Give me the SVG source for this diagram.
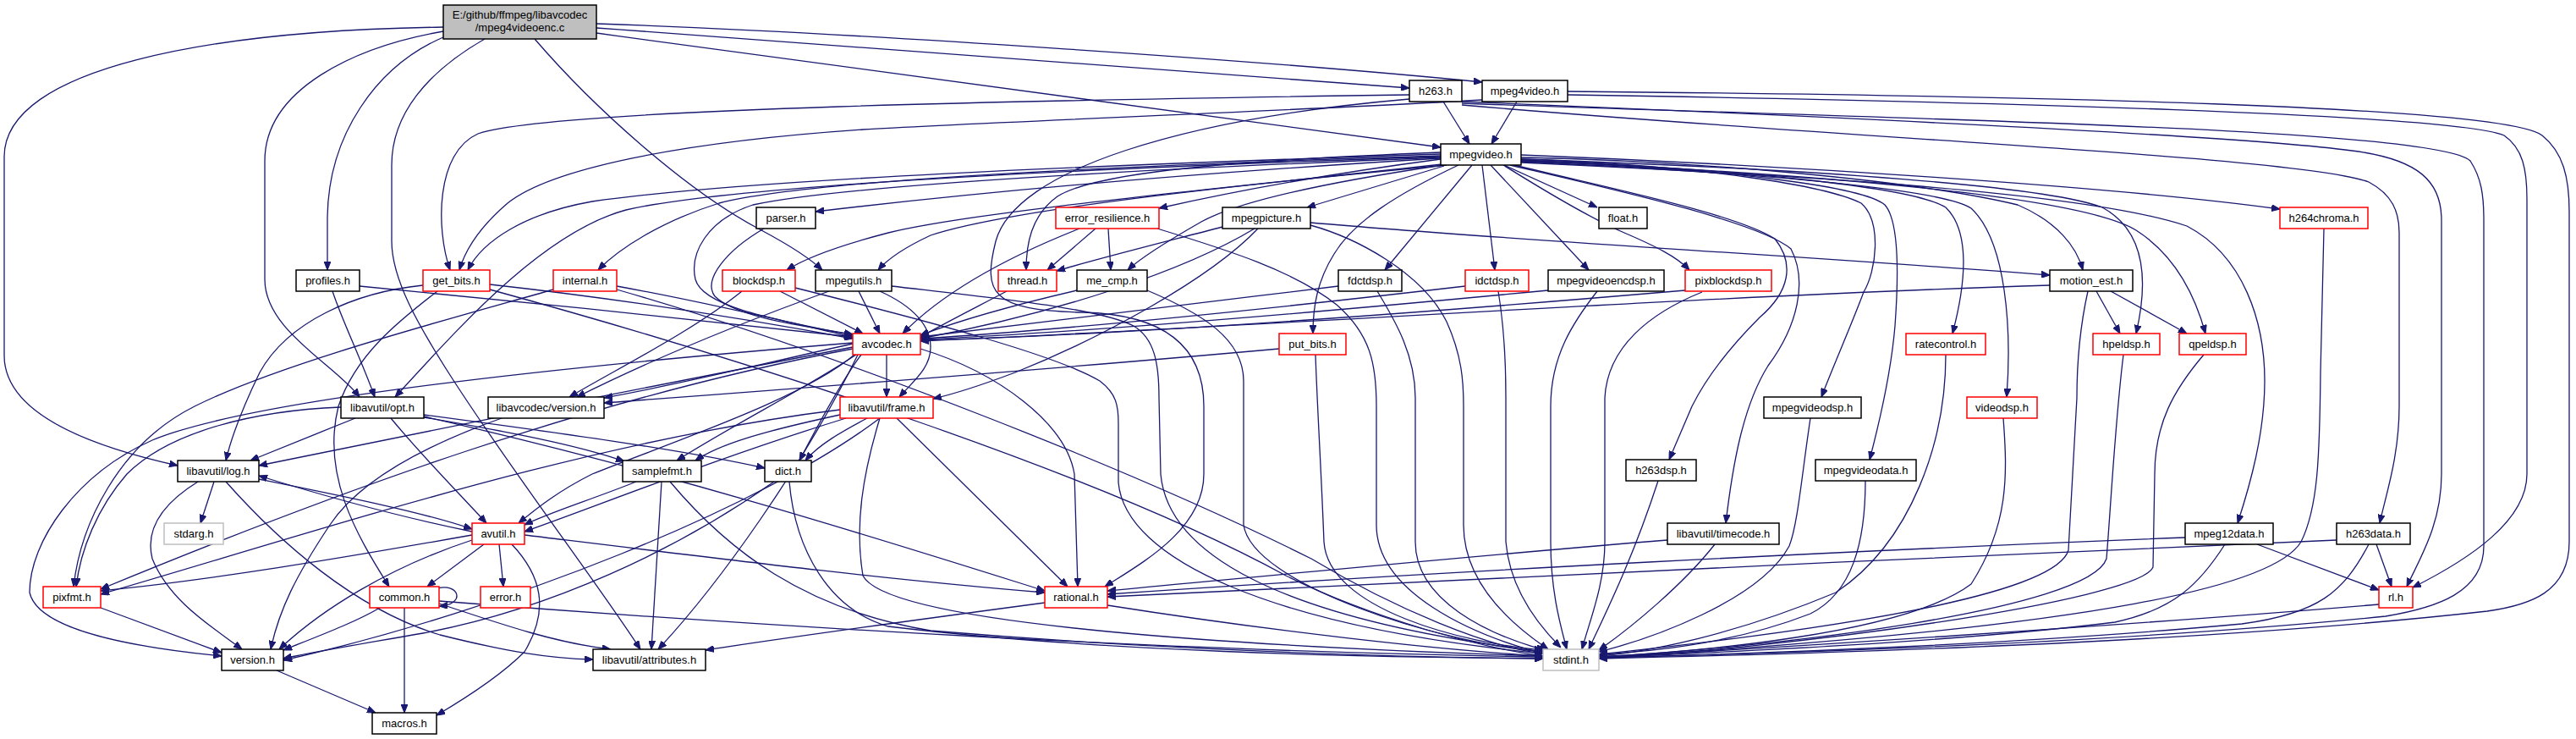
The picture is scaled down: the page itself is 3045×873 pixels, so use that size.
<svg xmlns="http://www.w3.org/2000/svg" width="3045" height="873" viewBox="0 0 3045 873">
<style>
.e{fill:none;stroke:#191970;stroke-width:1.3;marker-end:url(#a)}
.n rect{fill:#ffffff;stroke:#000000;stroke-width:1.5}
.n.r rect{stroke:#ff0000}
.n.g rect{stroke:#bfbfbf}
.n.m rect{fill:#bfbfbf}
.n text{font-family:"Liberation Sans",Arial,sans-serif;font-size:13px;text-anchor:middle;fill:#000000}
</style>
<defs>
<marker id="a" markerUnits="userSpaceOnUse" viewBox="0 0 10 8" markerWidth="10" markerHeight="8" refX="10" refY="4" orient="auto"><path d="M0,0 L10,4 L0,8 z" fill="#191970" stroke="#191970" stroke-width="1"/></marker>
</defs>
<rect x="0" y="0" width="3045" height="873" fill="#ffffff"/>
<g id="connectors">
<path class="e" d="M524,32 C250,36 5,80 5,185 L5,420 C5,490 110,528 210,550"/>
<path class="e" d="M524,37 C420,55 313,105 313,190 L313,330 C313,390 395,430 425,469"/>
<path class="e" d="M524,44 C445,78 387,160 387,260 L387,319"/>
<path class="e" d="M573,46 C505,85 463,135 463,195 L463,285 C463,330 495,385 530,440 C600,550 700,680 757,767"/>
<path class="e" d="M632,46 C700,125 810,225 900,272 C930,288 955,303 972,319"/>
<path class="e" d="M705,28 C1000,38 1500,72 1752,97"/>
<path class="e" d="M705,33 C1100,60 1500,92 1666,104"/>
<path class="e" d="M705,39 C1100,95 1500,145 1703,174"/>
<path class="e" d="M1706,120 L1737,170"/>
<path class="e" d="M1666,112 C1250,118 650,128 565,158 C515,180 515,270 532,319"/>
<path class="e" d="M1666,117 C1400,140 1200,200 1177,285 C1162,345 1170,367 1280,369 C1400,372 1423,430 1423,480 L1423,560 C1423,625 1350,665 1306,693"/>
<path class="e" d="M1728,120 C2100,135 2650,160 2780,178 C2860,188 2886,215 2886,260 L2886,560 C2886,620 2860,660 2845,693"/>
<path class="e" d="M1728,122 C2200,140 2880,150 2920,190 C2933,210 2936,230 2936,260 L2936,645 C2936,700 2880,718 2820,728 C2500,760 2100,772 1890,777"/>
<path class="e" d="M1728,124 C2200,165 2720,185 2800,215 C2828,230 2836,250 2836,275 L2836,480 C2836,540 2820,585 2813,618"/>
<path class="e" d="M1793,120 L1763,170"/>
<path class="e" d="M1752,118 C1550,130 1150,145 1020,153 C800,168 650,200 600,240 C565,270 550,295 543,319"/>
<path class="e" d="M1853,112 C2350,120 2900,135 2960,160 C2982,175 2987,200 2987,235 L2987,560 C2987,615 2920,660 2852,694"/>
<path class="e" d="M1853,108 C2400,113 2960,125 3005,160 C3030,180 3037,210 3037,250 L3037,640 C3037,700 2990,715 2940,722 C2600,760 2150,772 1890,778"/>
<path class="e" d="M1703,182 C1300,195 880,212 700,238 C620,252 570,285 553,319"/>
<path class="e" d="M1703,185 C1250,200 860,220 740,248 C640,275 540,390 467,469"/>
<path class="e" d="M1703,184 C1300,196 950,214 850,240 C780,262 730,295 707,319"/>
<path class="e" d="M1703,187 C1400,205 1150,228 964,250"/>
<path class="e" d="M1703,186 C1350,200 1000,218 890,242 C835,260 815,300 822,330 C830,360 900,375 1008,396"/>
<path class="e" d="M1705,194 C1450,222 1150,250 1050,275 C1000,288 955,303 930,319"/>
<path class="e" d="M1710,195 C1500,215 1200,245 1100,278 C1070,292 1050,305 1038,319"/>
<path class="e" d="M1703,180 C1500,188 1300,200 1250,232 C1218,255 1213,290 1213,319"/>
<path class="e" d="M1703,188 C1550,208 1450,228 1370,246"/>
<path class="e" d="M1706,195 C1550,218 1460,240 1420,262 C1385,282 1350,303 1333,319"/>
<path class="e" d="M1707,196 L1545,245"/>
<path class="e" d="M1778,195 L1888,245"/>
<path class="e" d="M1740,195 L1637,319"/>
<path class="e" d="M1752,195 L1767,319"/>
<path class="e" d="M1762,195 L1878,319"/>
<path class="e" d="M1777,195 C1830,228 1880,258 1920,275 C1955,290 1982,303 1997,319"/>
<path class="e" d="M1724,195 C1650,230 1600,262 1577,300 C1557,332 1552,362 1552,394"/>
<path class="e" d="M1798,186 C2000,190 2260,212 2385,242 C2432,262 2455,292 2462,319"/>
<path class="e" d="M1798,183 C2100,195 2500,220 2695,247"/>
<path class="e" d="M1798,188 C2150,200 2420,220 2485,245 C2535,272 2540,330 2525,394"/>
<path class="e" d="M1798,190 C2150,205 2460,232 2525,272 C2572,302 2595,350 2607,394"/>
<path class="e" d="M1798,189 C2050,200 2260,220 2300,245 C2328,272 2325,330 2308,394"/>
<path class="e" d="M1798,191 C2100,205 2300,225 2330,246 C2372,285 2378,390 2372,469"/>
<path class="e" d="M1798,188 C2020,196 2160,220 2200,240 C2225,262 2218,320 2203,345 C2188,385 2168,430 2153,469"/>
<path class="e" d="M1798,190 C2060,200 2205,222 2228,242 C2246,262 2244,330 2240,385 C2235,445 2220,505 2210,543"/>
<path class="e" d="M1790,195 C1900,222 2050,252 2098,282 C2122,312 2115,345 2080,375 C2050,405 2020,440 2000,480 L1973,543"/>
<path class="e" d="M1785,195 C1900,222 2080,262 2117,294 C2137,332 2125,385 2090,432 C2060,480 2048,550 2040,618"/>
<path class="e" d="M1798,192 C2100,206 2460,225 2585,267 C2652,302 2677,380 2677,450 C2677,512 2660,572 2645,618"/>
<path class="e" d="M393,344 C405,380 425,420 443,469"/>
<path class="e" d="M425,338 C600,355 850,380 1008,398"/>
<path class="e" d="M579,336 C750,355 900,380 1008,400"/>
<path class="e" d="M500,337 C420,345 340,380 307,440 C290,475 275,510 267,544"/>
<path class="e" d="M517,344 C470,380 420,420 400,480 C380,560 420,630 460,693"/>
<path class="e" d="M579,342 C900,430 1300,560 1520,680 C1620,730 1750,765 1824,775"/>
<path class="e" d="M729,338 C850,360 950,385 1008,398"/>
<path class="e" d="M654,342 C520,380 330,430 230,480 C140,525 95,620 87,693"/>
<path class="e" d="M729,342 C1000,420 1350,560 1550,660 C1650,720 1760,765 1824,772"/>
<path class="e" d="M903,270 C860,295 830,330 845,350 C870,375 950,385 1008,395"/>
<path class="e" d="M922,344 L1020,394"/>
<path class="e" d="M877,344 C820,390 740,430 673,469"/>
<path class="e" d="M940,340 C1100,380 1250,420 1300,450 C1320,465 1322,480 1322,500 L1322,570 C1330,660 1500,740 1824,772"/>
<path class="e" d="M1015,344 L1040,394"/>
<path class="e" d="M980,344 C880,380 780,420 682,469"/>
<path class="e" d="M1040,344 C1080,362 1100,385 1100,410 C1100,435 1080,450 1063,469"/>
<path class="e" d="M1054,338 C1200,355 1300,365 1340,385 C1365,400 1370,430 1370,470 L1372,560 C1380,650 1500,730 1824,770"/>
<path class="e" d="M1190,344 C1150,365 1120,380 1088,398"/>
<path class="e" d="M1295,270 L1238,319"/>
<path class="e" d="M1310,270 L1313,319"/>
<path class="e" d="M1276,270 C1200,300 1120,340 1067,394"/>
<path class="e" d="M1368,270 C1450,295 1530,320 1580,360 C1620,395 1627,430 1627,480 L1627,620 C1627,700 1740,750 1824,772"/>
<path class="e" d="M1273,343 C1200,360 1130,380 1088,396"/>
<path class="e" d="M1356,343 C1420,370 1470,400 1470,450 L1470,620 C1480,690 1700,760 1824,770"/>
<path class="e" d="M1445,268 C1380,285 1300,305 1249,320"/>
<path class="e" d="M1483,270 C1400,320 1250,370 1088,400"/>
<path class="e" d="M1487,270 C1430,330 1300,400 1200,440 C1160,455 1130,465 1103,471"/>
<path class="e" d="M1549,263 C1800,285 2100,300 2423,325"/>
<path class="e" d="M1549,266 C1600,280 1680,320 1710,380 C1728,420 1730,450 1730,480 L1730,620 C1730,690 1790,740 1830,767"/>
<path class="e" d="M1582,338 C1400,360 1200,385 1088,398"/>
<path class="e" d="M1628,344 C1650,380 1673,420 1673,470 L1673,640 C1673,710 1760,750 1826,768"/>
<path class="e" d="M1732,338 C1500,365 1250,390 1088,400"/>
<path class="e" d="M1771,344 C1777,380 1780,420 1780,470 L1780,640 C1785,700 1825,745 1845,765"/>
<path class="e" d="M1830,343 C1600,365 1300,392 1088,401"/>
<path class="e" d="M1888,344 C1860,380 1833,420 1833,480 L1833,640 C1833,700 1845,740 1852,767"/>
<path class="e" d="M1992,343 C1700,368 1350,395 1088,402"/>
<path class="e" d="M2012,345 C1950,370 1900,410 1897,470 L1897,640 C1897,690 1880,730 1870,767"/>
<path class="e" d="M2478,344 L2506,394"/>
<path class="e" d="M2495,344 L2585,394"/>
<path class="e" d="M2423,337 C2000,350 1500,385 1088,403"/>
<path class="e" d="M2468,344 C2460,380 2455,420 2455,470 L2445,650 C2430,700 2200,740 1890,773"/>
<path class="e" d="M1008,406 C900,430 800,455 714,470"/>
<path class="e" d="M1048,419 L1048,469"/>
<path class="e" d="M1012,419 C950,460 870,500 800,544"/>
<path class="e" d="M1018,419 C995,450 968,500 945,544"/>
<path class="e" d="M1010,419 C950,470 800,520 700,560 C660,580 635,600 613,618"/>
<path class="e" d="M1008,410 C800,450 500,510 306,550"/>
<path class="e" d="M1008,412 C700,470 400,580 119,696"/>
<path class="e" d="M1088,412 C1180,440 1260,500 1270,560 L1274,693"/>
<path class="e" d="M1014,419 C950,550 850,690 778,767"/>
<path class="e" d="M1008,405 C700,430 300,470 180,520 C90,560 35,640 35,700 C45,745 160,765 262,775"/>
<path class="e" d="M593,494 C520,520 430,560 390,620 C350,680 330,720 320,767"/>
<path class="e" d="M420,494 C380,510 330,530 296,544"/>
<path class="e" d="M403,481 C300,485 200,510 150,560 C115,600 95,650 90,693"/>
<path class="e" d="M462,494 C500,540 540,580 575,618"/>
<path class="e" d="M501,490 C650,510 800,530 904,553"/>
<path class="e" d="M501,493 C600,510 680,525 738,545"/>
<path class="e" d="M501,492 C800,560 1050,640 1235,698"/>
<path class="e" d="M1000,494 C850,540 700,600 620,628"/>
<path class="e" d="M1025,494 C995,510 968,525 952,544"/>
<path class="e" d="M993,490 C900,510 850,525 822,544"/>
<path class="e" d="M993,484 C700,520 400,620 119,702"/>
<path class="e" d="M1060,494 L1262,693"/>
<path class="e" d="M1040,494 C900,600 600,720 335,780"/>
<path class="e" d="M1040,494 C1020,560 1010,620 1020,680 C1050,740 1500,765 1824,775"/>
<path class="e" d="M752,569 C700,590 650,605 620,620"/>
<path class="e" d="M782,569 L770,767"/>
<path class="e" d="M792,569 C860,650 950,720 1100,745 C1400,770 1650,776 1824,778"/>
<path class="e" d="M933,569 C940,650 980,720 1050,740 C1300,770 1600,776 1824,778"/>
<path class="e" d="M915,569 C800,650 650,720 500,748 C420,762 370,770 335,778"/>
<path class="e" d="M253,569 L237,618"/>
<path class="e" d="M234,569 C200,590 170,620 180,660 C200,710 250,740 286,767"/>
<path class="e" d="M306,566 C400,585 500,605 558,625"/>
<path class="e" d="M267,569 C330,640 420,720 520,750 C600,770 650,778 701,779"/>
<path class="e" d="M558,628 C470,610 380,585 306,562"/>
<path class="e" d="M572,643 L505,693"/>
<path class="e" d="M590,643 L595,693"/>
<path class="e" d="M620,632 C850,660 1050,685 1235,700"/>
<path class="e" d="M558,638 C460,670 380,720 330,767"/>
<path class="e" d="M605,643 C640,680 650,720 620,770 C590,800 550,825 516,845"/>
<path class="e" d="M558,632 C400,660 250,685 119,698"/>
<path class="e" d="M517,695 C542,688 552,714 519,716"/>
<path class="e" d="M478,718 L478,842"/>
<path class="e" d="M449,718 C420,735 380,750 335,768"/>
<path class="e" d="M519,713 C600,740 660,760 722,767"/>
<path class="e" d="M519,710 C900,740 1400,770 1824,776"/>
<path class="e" d="M119,718 L262,771"/>
<path class="e" d="M327,792 L444,842"/>
<path class="e" d="M1235,712 C1100,730 950,750 834,768"/>
<path class="e" d="M1309,715 C1500,745 1700,768 1824,775"/>
<path class="e" d="M1555,419 C1557,480 1562,560 1565,640 C1570,720 1730,760 1824,768"/>
<path class="e" d="M1512,412 C1200,440 900,462 714,476"/>
<path class="e" d="M2300,419 C2300,520 2260,640 2170,700 C2050,750 1950,770 1890,775"/>
<path class="e" d="M2510,419 C2500,500 2495,600 2490,660 C2470,720 2100,765 1890,776"/>
<path class="e" d="M2605,419 C2570,460 2547,500 2547,560 L2545,670 C2530,710 2100,768 1890,777"/>
<path class="e" d="M2368,494 C2373,560 2375,620 2330,690 C2250,750 2000,770 1890,776"/>
<path class="e" d="M2140,494 C2130,560 2125,620 2115,645 C2080,710 1950,755 1890,770"/>
<path class="e" d="M2205,568 C2205,640 2190,700 2140,725 C2050,760 1950,770 1890,773"/>
<path class="e" d="M1960,568 C1930,660 1900,720 1878,767"/>
<path class="e" d="M1971,638 C1700,660 1450,685 1309,698"/>
<path class="e" d="M2027,643 C1990,690 1930,740 1890,768"/>
<path class="e" d="M2668,643 L2812,697"/>
<path class="e" d="M2583,635 C2200,650 1700,675 1309,702"/>
<path class="e" d="M2630,643 C2600,690 2570,720 2500,735 C2300,760 2000,772 1890,777"/>
<path class="e" d="M2809,643 L2827,693"/>
<path class="e" d="M2762,638 C2300,655 1700,690 1309,705"/>
<path class="e" d="M2800,643 C2770,700 2740,725 2650,737 C2400,760 2100,772 1890,777"/>
<path class="e" d="M2812,714 C2500,740 2100,765 1890,777"/>
<path class="e" d="M2747,270 L2743,440 C2742,540 2740,600 2720,640 C2690,690 2500,740 1890,777"/>
</g>
<g id="n-main" class="n m"><rect x="524" y="6" width="181" height="40"/><text x="614.5" y="22">E:/github/ffmpeg/libavcodec</text><text x="614.5" y="37">/mpeg4videoenc.c</text></g>
<g id="n-h263" class="n"><rect x="1666" y="95" width="62" height="25"/><text x="1697" y="112">h263.h</text></g>
<g id="n-mpeg4video" class="n"><rect x="1752" y="95" width="101" height="25"/><text x="1802.5" y="112">mpeg4video.h</text></g>
<g id="n-mpegvideo" class="n"><rect x="1703" y="170" width="95" height="25"/><text x="1750.5" y="187">mpegvideo.h</text></g>
<g id="n-parser" class="n"><rect x="894" y="245" width="70" height="25"/><text x="929" y="262">parser.h</text></g>
<g id="n-error_resilience" class="n r"><rect x="1248" y="245" width="122" height="25"/><text x="1309" y="262">error_resilience.h</text></g>
<g id="n-mpegpicture" class="n"><rect x="1445" y="245" width="104" height="25"/><text x="1497" y="262">mpegpicture.h</text></g>
<g id="n-float" class="n"><rect x="1890" y="245" width="57" height="25"/><text x="1918.5" y="262">float.h</text></g>
<g id="n-h264chroma" class="n r"><rect x="2695" y="245" width="104" height="25"/><text x="2747" y="262">h264chroma.h</text></g>
<g id="n-profiles" class="n"><rect x="350" y="319" width="75" height="25"/><text x="387.5" y="336">profiles.h</text></g>
<g id="n-get_bits" class="n r"><rect x="500" y="319" width="79" height="25"/><text x="539.5" y="336">get_bits.h</text></g>
<g id="n-internal" class="n r"><rect x="654" y="319" width="75" height="25"/><text x="691.5" y="336">internal.h</text></g>
<g id="n-blockdsp" class="n r"><rect x="854" y="319" width="86" height="25"/><text x="897" y="336">blockdsp.h</text></g>
<g id="n-mpegutils" class="n"><rect x="964" y="319" width="90" height="25"/><text x="1009" y="336">mpegutils.h</text></g>
<g id="n-thread" class="n r"><rect x="1180" y="319" width="69" height="25"/><text x="1214.5" y="336">thread.h</text></g>
<g id="n-me_cmp" class="n"><rect x="1273" y="319" width="83" height="25"/><text x="1314.5" y="336">me_cmp.h</text></g>
<g id="n-fdctdsp" class="n"><rect x="1582" y="319" width="75" height="25"/><text x="1619.5" y="336">fdctdsp.h</text></g>
<g id="n-idctdsp" class="n r"><rect x="1732" y="319" width="75" height="25"/><text x="1769.5" y="336">idctdsp.h</text></g>
<g id="n-mpegvideoencdsp" class="n"><rect x="1830" y="319" width="137" height="25"/><text x="1898.5" y="336">mpegvideoencdsp.h</text></g>
<g id="n-pixblockdsp" class="n r"><rect x="1992" y="319" width="102" height="25"/><text x="2043" y="336">pixblockdsp.h</text></g>
<g id="n-motion_est" class="n"><rect x="2423" y="319" width="98" height="25"/><text x="2472" y="336">motion_est.h</text></g>
<g id="n-avcodec" class="n r"><rect x="1008" y="394" width="80" height="25"/><text x="1048" y="411">avcodec.h</text></g>
<g id="n-put_bits" class="n r"><rect x="1512" y="394" width="79" height="25"/><text x="1551.5" y="411">put_bits.h</text></g>
<g id="n-ratecontrol" class="n r"><rect x="2253" y="394" width="94" height="25"/><text x="2300" y="411">ratecontrol.h</text></g>
<g id="n-hpeldsp" class="n r"><rect x="2474" y="394" width="79" height="25"/><text x="2513.5" y="411">hpeldsp.h</text></g>
<g id="n-qpeldsp" class="n r"><rect x="2576" y="394" width="79" height="25"/><text x="2615.5" y="411">qpeldsp.h</text></g>
<g id="n-opt" class="n"><rect x="403" y="469" width="98" height="25"/><text x="452" y="486">libavutil/opt.h</text></g>
<g id="n-avcodec_version" class="n"><rect x="577" y="469" width="137" height="25"/><text x="645.5" y="486">libavcodec/version.h</text></g>
<g id="n-frame" class="n r"><rect x="993" y="469" width="110" height="25"/><text x="1048" y="486">libavutil/frame.h</text></g>
<g id="n-mpegvideodsp" class="n"><rect x="2085" y="469" width="115" height="25"/><text x="2142.5" y="486">mpegvideodsp.h</text></g>
<g id="n-videodsp" class="n r"><rect x="2325" y="469" width="83" height="25"/><text x="2366.5" y="486">videodsp.h</text></g>
<g id="n-log" class="n"><rect x="210" y="544" width="96" height="25"/><text x="258" y="561">libavutil/log.h</text></g>
<g id="n-samplefmt" class="n"><rect x="736" y="544" width="93" height="25"/><text x="782.5" y="561">samplefmt.h</text></g>
<g id="n-dict" class="n"><rect x="904" y="544" width="55" height="25"/><text x="931.5" y="561">dict.h</text></g>
<g id="n-h263dsp" class="n"><rect x="1922" y="543" width="83" height="25"/><text x="1963.5" y="560">h263dsp.h</text></g>
<g id="n-mpegvideodata" class="n"><rect x="2146" y="543" width="119" height="25"/><text x="2205.5" y="560">mpegvideodata.h</text></g>
<g id="n-stdarg" class="n g"><rect x="194" y="618" width="70" height="25"/><text x="229" y="635">stdarg.h</text></g>
<g id="n-avutil" class="n r"><rect x="558" y="618" width="62" height="25"/><text x="589" y="635">avutil.h</text></g>
<g id="n-timecode" class="n"><rect x="1971" y="618" width="132" height="25"/><text x="2037" y="635">libavutil/timecode.h</text></g>
<g id="n-mpeg12data" class="n"><rect x="2583" y="618" width="104" height="25"/><text x="2635" y="635">mpeg12data.h</text></g>
<g id="n-h263data" class="n"><rect x="2762" y="618" width="87" height="25"/><text x="2805.5" y="635">h263data.h</text></g>
<g id="n-pixfmt" class="n r"><rect x="51" y="693" width="68" height="25"/><text x="85" y="710">pixfmt.h</text></g>
<g id="n-common" class="n r"><rect x="437" y="693" width="82" height="25"/><text x="478" y="710">common.h</text></g>
<g id="n-error" class="n r"><rect x="568" y="693" width="59" height="25"/><text x="597.5" y="710">error.h</text></g>
<g id="n-rational" class="n r"><rect x="1235" y="693" width="74" height="25"/><text x="1272" y="710">rational.h</text></g>
<g id="n-rl" class="n r"><rect x="2812" y="693" width="40" height="25"/><text x="2832" y="710">rl.h</text></g>
<g id="n-version" class="n"><rect x="262" y="767" width="73" height="25"/><text x="298.5" y="784">version.h</text></g>
<g id="n-attributes" class="n"><rect x="701" y="767" width="133" height="25"/><text x="767.5" y="784">libavutil/attributes.h</text></g>
<g id="n-stdint" class="n g"><rect x="1824" y="767" width="66" height="25"/><text x="1857" y="784">stdint.h</text></g>
<g id="n-macros" class="n"><rect x="440" y="842" width="76" height="25"/><text x="478" y="859">macros.h</text></g>
</svg>
